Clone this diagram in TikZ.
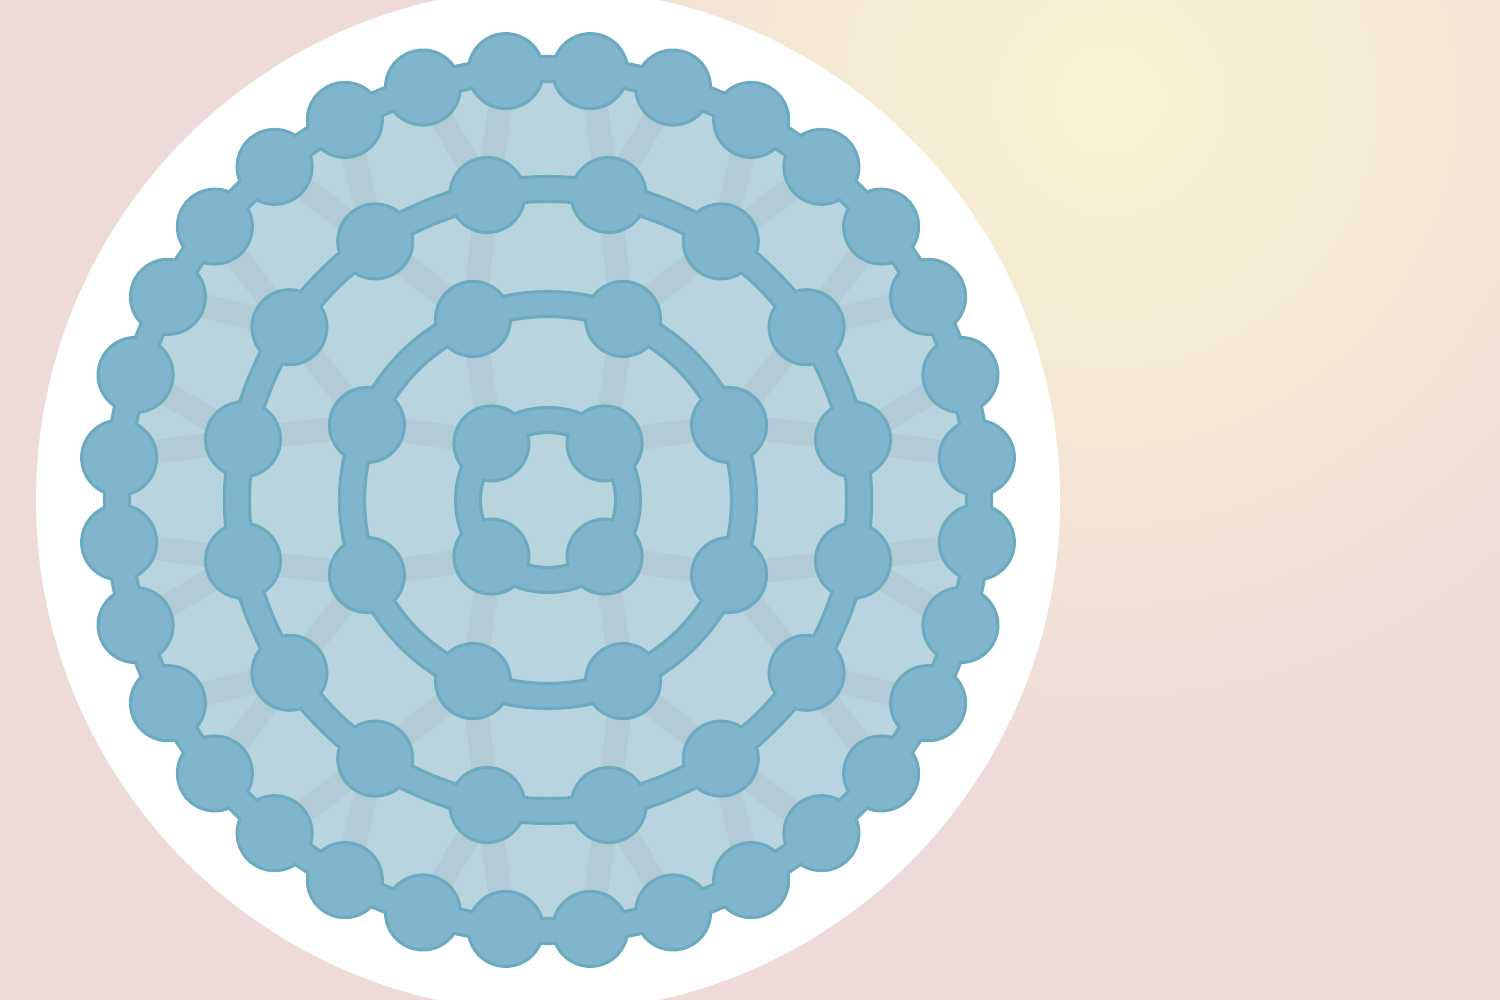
\documentclass[tikz,border=0pt]{standalone}
\usetikzlibrary{calc}
\definecolor{bgpink}{HTML}{EEDAD8}
\definecolor{glowy}{HTML}{F9F5D4}
\definecolor{glowm}{HTML}{F4E7D4}
\definecolor{diskc}{HTML}{B8D5DF}
\definecolor{spokec}{HTML}{B2CBD7}
\definecolor{nodec}{HTML}{81B5CD}
\definecolor{edgec}{HTML}{6BAABF}
\pgfdeclarelayer{bg}
\pgfdeclarelayer{mid}
\pgfdeclarelayer{fg}
\pgfsetlayers{bg,mid,main,fg}
\begin{document}
\begin{tikzpicture}[x=0.01cm,y=-0.01cm,
  atom/.style={circle, fill=nodec, draw=edgec, line width=0.85pt, minimum size=0.75cm, inner sep=0pt},
  spoke/.style={draw=spokec, line width=6.8pt},
  ringout/.style={draw=edgec, line width=8pt},
  ringin/.style={draw=nodec, line width=6.2pt}]
\useasboundingbox (0,0) rectangle (1500,1000);
\begin{pgfonlayer}{bg}
  \fill[bgpink] (0,0) rectangle (1500,1000);
  \begin{scope}
    \clip (0,0) rectangle (1500,1000);
    \foreach \k in {0,...,70}{
      \pgfmathsetmacro\rr{700-10*\k}
      \pgfmathsetmacro\t{\rr/700}
      \ifdim \t pt > 0.48pt
        \pgfmathtruncatemacro\p{(1-\t)/0.52*100}
        \colorlet{gtmp}{glowm!\p!bgpink}
      \else
        \pgfmathtruncatemacro\p{(0.48-\t)/0.48*100}
        \colorlet{gtmp}{glowy!\p!glowm}
      \fi
      \fill[gtmp] (1110,100) circle[radius=\rr];
    }
    \fill[white] (548,500) circle[radius=512];
  \end{scope}
  \fill[diskc] (548,500) circle[radius=431];
\end{pgfonlayer}
\coordinate (c) at (548,500);
% nodes
\foreach \n/\N/\R in {1/4/80,2/8/196,3/16/311,4/32/431}{
  \pgfmathtruncatemacro\last{\N-1}
  \foreach \i in {0,...,\last}{
    \node[atom] (r\n-\i) at ($(c)+({(2*\i+1)*180/\N}:\R)$) {};
  }
}
% spokes
\begin{pgfonlayer}{mid}
\foreach \n/\N in {1/4,2/8,3/16}{
  \pgfmathtruncatemacro\last{\N-1}
  \pgfmathtruncatemacro\m{\n+1}
  \foreach \i in {0,...,\last}{
    \pgfmathtruncatemacro\ja{2*\i}
    \pgfmathtruncatemacro\jb{2*\i+1}
    \draw[spoke] (r\n-\i.center) -- (r\m-\ja.center);
    \draw[spoke] (r\n-\i.center) -- (r\m-\jb.center);
  }
}
\foreach \n/\N/\R in {1/4/80,2/8/196,3/16/311,4/32/431}{
  \pgfmathtruncatemacro\last{\N-1}
  \foreach \i in {0,...,\last}{
    \draw[ringout] (r\n-\i.center) arc[start angle={(2*\i+1)*180/\N}, delta angle={360/\N}, radius=\R];
  }
}
\end{pgfonlayer}
\begin{pgfonlayer}{fg}
\foreach \n/\N/\R in {1/4/80,2/8/196,3/16/311,4/32/431}{
  \pgfmathtruncatemacro\last{\N-1}
  \foreach \i in {0,...,\last}{
    \draw[ringin] (r\n-\i.center) arc[start angle={(2*\i+1)*180/\N}, delta angle={360/\N}, radius=\R];
  }
}
\end{pgfonlayer}
\end{tikzpicture}
\end{document}
